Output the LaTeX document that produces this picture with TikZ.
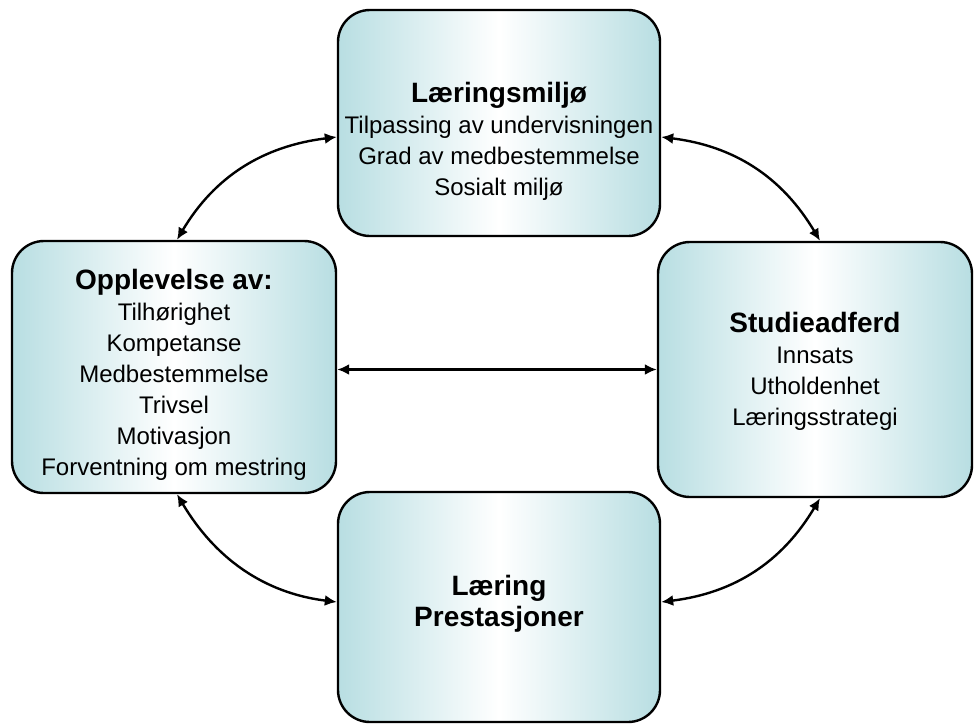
\documentclass[tikz,border=0pt]{standalone}
\usepackage{fontspec}
\setmainfont{Liberation Sans}
\usetikzlibrary{arrows.meta}
\definecolor{boxteal}{RGB}{184,222,226}

\begin{document}
\begin{tikzpicture}[x=1pt,y=-1pt]
   \tikzstyle{box} = [rectangle, draw=black, line width=2.4pt, rounded corners=32pt, left color=boxteal, right color=boxteal, middle color=white, inner sep=0pt]
   \tikzstyle{txt} = [align=center, inner sep=0pt, font=\fontsize{24}{31}\selectfont]
   \tikzstyle{head} = [font=\bfseries\fontsize{28}{31}\selectfont]

   \useasboundingbox (0,0) rectangle (976,726);

      \draw
        (499, 123) node[box, minimum width=322pt, minimum height=226pt] (0){}
        (174, 367) node[box, minimum width=324pt, minimum height=252pt] (1){}
        (815, 369.5) node[box, minimum width=314pt, minimum height=255pt] (2){}
        (499, 607) node[box, minimum width=322pt, minimum height=230pt] (3){};

      \draw
        (499, 141) node[txt] (t0){{\bfseries\fontsize{28}{31}\selectfont Læringsmiljø}\\Tilpassing av undervisningen\\Grad av medbestemmelse\\Sosialt miljø}
        (174, 375) node[txt] (t1){{\bfseries\fontsize{28}{31}\selectfont Opplevelse av:}\\Tilhørighet\\Kompetanse\\Medbestemmelse\\Trivsel\\Motivasjon\\Forventning om mestring}
        (815, 371.5) node[txt] (t2){{\bfseries\fontsize{28}{31}\selectfont Studieadferd}\\Innsats\\Utholdenhet\\Læringsstrategi}
        (499, 604) node[txt, head, align=center] (t3){Læring\\Prestasjoner};

  \begin{scope}[line width=2.4pt, {Latex[length=12pt,width=11pt]}-{Latex[length=12pt,width=11pt]}]
    \draw ([yshift=-14pt]0.west) .. controls +(-73,9) and +(38,-64) .. ([xshift=3pt]1.north);
    \draw ([yshift=-14pt]0.east) .. controls +(73,9) and +(-38,-64) .. ([xshift=5pt]2.north);
    \draw ([xshift=3pt]1.south) .. controls +(38,64) and +(-73,-9) .. ([yshift=5pt]3.west);
    \draw ([xshift=5pt]2.south) .. controls +(-38,64) and +(73,-9) .. ([yshift=5pt]3.east);
    \draw (1.east |- 2.west) -- (2.west);
  \end{scope}
\end{tikzpicture}
\end{document}
